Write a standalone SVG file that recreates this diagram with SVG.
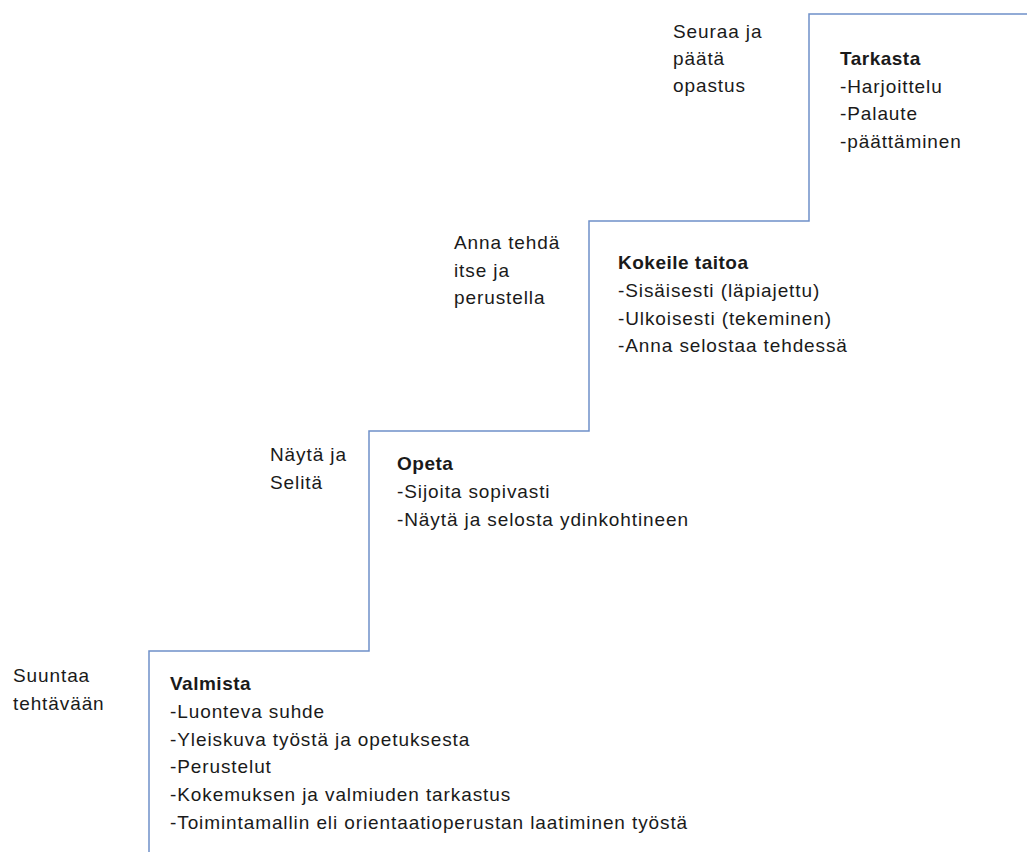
<svg xmlns="http://www.w3.org/2000/svg" width="1027" height="852" viewBox="0 0 1027 852">
<style>
text{font-family:"Liberation Sans",Arial,sans-serif;font-size:19px;fill:#1a1a1a;letter-spacing:0.9px}
.b{font-weight:bold;letter-spacing:0.5px}
.stair{fill:none;stroke:#6f90c9;stroke-width:1.5}
</style>
<rect width="1027" height="852" fill="#ffffff"/>
<g id="connectors">
<path class="stair" d="M149,852 V651 H369 V431 H589 V221 H809 V14 H1027"/>
</g>
<g id="step1-label">
<text x="13" y="682">Suuntaa</text>
<text x="13" y="710">tehtävään</text>
</g>
<g id="step1">
<text class="b" x="170" y="690">Valmista</text>
<text x="170" y="718">-Luonteva suhde</text>
<text x="170" y="746">-Yleiskuva työstä ja opetuksesta</text>
<text x="170" y="773">-Perustelut</text>
<text x="170" y="801">-Kokemuksen ja valmiuden tarkastus</text>
<text x="170" y="829">-Toimintamallin eli orientaatioperustan laatiminen työstä</text>
</g>
<g id="step2-label">
<text x="270" y="461">Näytä ja</text>
<text x="270" y="489">Selitä</text>
</g>
<g id="step2">
<text class="b" x="397" y="470">Opeta</text>
<text x="397" y="498">-Sijoita sopivasti</text>
<text x="397" y="526">-Näytä ja selosta ydinkohtineen</text>
</g>
<g id="step3-label">
<text x="454" y="249">Anna tehdä</text>
<text x="454" y="277">itse ja</text>
<text x="454" y="304">perustella</text>
</g>
<g id="step3">
<text class="b" x="618" y="269">Kokeile taitoa</text>
<text x="618" y="297">-Sisäisesti (läpiajettu)</text>
<text x="618" y="325">-Ulkoisesti (tekeminen)</text>
<text x="618" y="352">-Anna selostaa tehdessä</text>
</g>
<g id="step4-label">
<text x="673" y="38">Seuraa ja</text>
<text x="673" y="65">päätä</text>
<text x="673" y="92">opastus</text>
</g>
<g id="step4">
<text class="b" x="840" y="65">Tarkasta</text>
<text x="840" y="93">-Harjoittelu</text>
<text x="840" y="120">-Palaute</text>
<text x="840" y="148">-päättäminen</text>
</g>
</svg>
